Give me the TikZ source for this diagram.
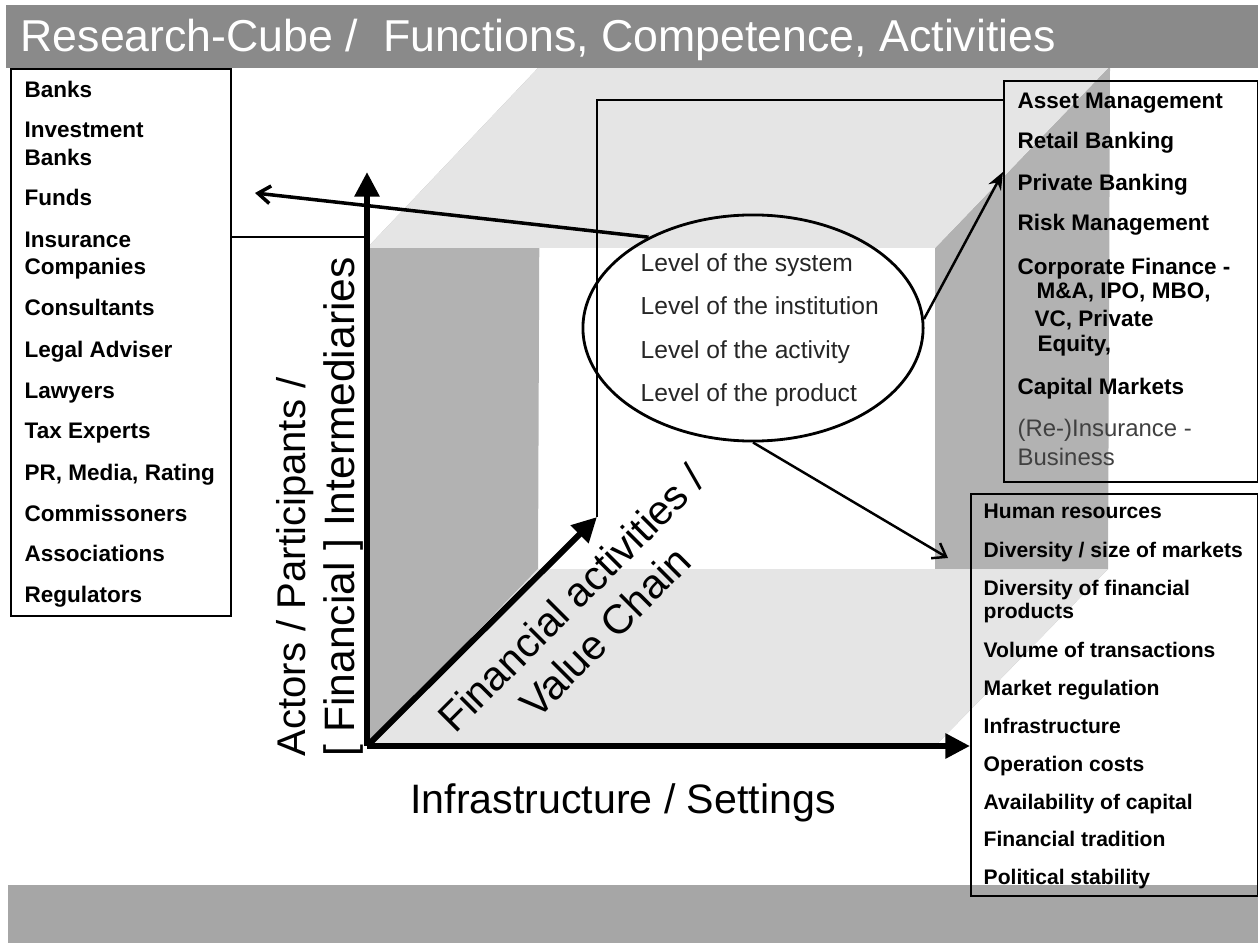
\documentclass[tikz,border=0pt]{standalone}
\usepackage{fontspec}
\setmainfont{Liberation Sans}
\usetikzlibrary{arrows.meta,shapes.geometric}
\definecolor{titlegray}{gray}{0.54}
\definecolor{footgray}{gray}{0.65}
\definecolor{sidegray}{gray}{0.70}
\definecolor{facegray}{gray}{0.90}

\begin{document}
\begin{tikzpicture}[x=0.01cm,y=-0.01cm,
  axis/.style={line width=1.7pt,-{Triangle[length=7pt,width=6.8pt]}},
  pointer/.style={line width=0.7pt,-{Straight Barb[length=3.5pt,width=5pt]}},
  listbox/.style={draw,line width=0.6pt,anchor=north west,inner sep=0pt},
  item/.style={anchor=base west,inner sep=0pt,font=\fontsize{6.4}{7.6}\selectfont\bfseries},
  smallitem/.style={anchor=base west,inner sep=0pt,font=\fontsize{6}{7}\selectfont\bfseries},
  level/.style={anchor=base west,inner sep=0pt,text=black!85,font=\fontsize{7}{8}\selectfont},
  biglabel/.style={inner sep=0pt,font=\fontsize{11.7}{13.5}\selectfont}]
\useasboundingbox (0,0) rectangle (1258,943);

% faces of the cube
\fill[sidegray] (367,746) -- (538,569) -- (540,66) -- (367,248) -- cycle;
\fill[sidegray] (935,746) -- (1108,569) -- (1110,66) -- (935,248) -- cycle;
\fill[facegray] (367,746) -- (935,746) -- (1108,569) -- (538,569) -- cycle;
\fill[facegray] (367,248) -- (935,248) -- (1110,66) -- (540,66) -- cycle;

% bars
\fill[titlegray] (6,5) rectangle (1258,68);
\fill[footgray] (8,885) rectangle (1258,943);
\node[anchor=base west,inner sep=0pt,text=white,font=\fontsize{12.7}{14}\selectfont] (title) at (20,52) {Research-Cube /\ \ Functions, Competence, Activities};

\coordinate (origin) at (367,746);
\coordinate (ytip) at (367,172);
\coordinate (xtip) at (970,746);
\coordinate (ztip) at (597,517);
\coordinate (yhook) at (367,237);
\coordinate (zhook) at (597,100);

% boxes
\node[listbox,minimum width=2.2cm,minimum height=5.47cm] (actors) at (10,68) {};
\node[listbox,minimum width=2.54cm,minimum height=4.01cm] (products) at (1003,80) {};
\node[listbox,minimum width=2.87cm,minimum height=4.02cm] (settings) at (970,493) {};

\draw[line width=0.45pt] (actors.east |- yhook) -- (yhook);
\draw[line width=0.45pt] (ztip) -- (zhook) -- (products.west |- zhook);

% levels
\node[draw,ellipse,line width=0.8pt,minimum width=3.4cm,minimum height=2.26cm] (levels) at (753,328) {};
\coordinate (ptrA) at (255,193);
\coordinate (ptrB) at (1003,172);
\coordinate (ptrC) at (948,558);
\draw[pointer,line width=1pt] (levels.139) -- (ptrA);
\draw[line width=0.7pt,-{Stealth[length=5pt,width=4pt]}] (levels.3) -- (ptrB);
\draw[pointer] (levels.south) -- (ptrC);

% axes
\draw[axis] (origin) -- (ytip);
\draw[axis] (origin) -- (xtip);
\draw[axis] (origin) -- (ztip);

\node[biglabel,rotate=90,anchor=base west,font=\fontsize{11.4}{13.5}\selectfont] (actorsA) at (305,757) {Actors / Participants /};
\node[biglabel,rotate=90,anchor=base west,font=\fontsize{12.1}{13.5}\selectfont] (actorsB) at (354,757) {[ Financial ] Intermediaries};
\node[biglabel,rotate=45,align=center] (chain) at (588,615) {Financial activities /\\Value Chain};
\node[biglabel] (infra) at (623,803) {Infrastructure / Settings};

\node[level] at (640,272) {Level of the system};
\node[level] at (640,315) {Level of the institution};
\node[level] at (640,359) {Level of the activity};
\node[level] at (640,402) {Level of the product};

\foreach \yy/\tt in {98/Banks,138/Investment,166/Banks,206/Funds,248/Insurance,
  275/Companies,316/Consultants,357/Legal Adviser,398/Lawyers,439/Tax Experts,
  480/{PR, Media, Rating},521/Commissoners,561/Associations,602/Regulators}
  \node[item] at (24,\yy) {\tt};

\foreach \yy/\xx/\tt in {109/1017/Asset Management,149/1017/Retail Banking,
  191/1017/Private Banking,231/1017/Risk Management,275/1017/Corporate Finance -,
  299/1036/{M\&A, IPO, MBO,},327/1034/{VC, Private},351/1037/{Equity,},
  395/1017/Capital Markets}
  \node[item] at (\xx,\yy) {\tt};
\node[level,text=black!75,font=\fontsize{6.8}{8}\selectfont] at (1017,436) {(Re-)Insurance -};
\node[level,text=black!75,font=\fontsize{6.8}{8}\selectfont] at (1017,465) {Business};

\foreach \yy/\tt in {518/Human resources,557/{Diversity / size of markets},
  595/Diversity of financial,618/products,657/Volume of transactions,
  695/Market regulation,733/Infrastructure,771/Operation costs,
  809/Availability of capital,846/Financial tradition,884/Political stability}
  \node[smallitem] at (983,\yy) {\tt};
\end{tikzpicture}
\end{document}
